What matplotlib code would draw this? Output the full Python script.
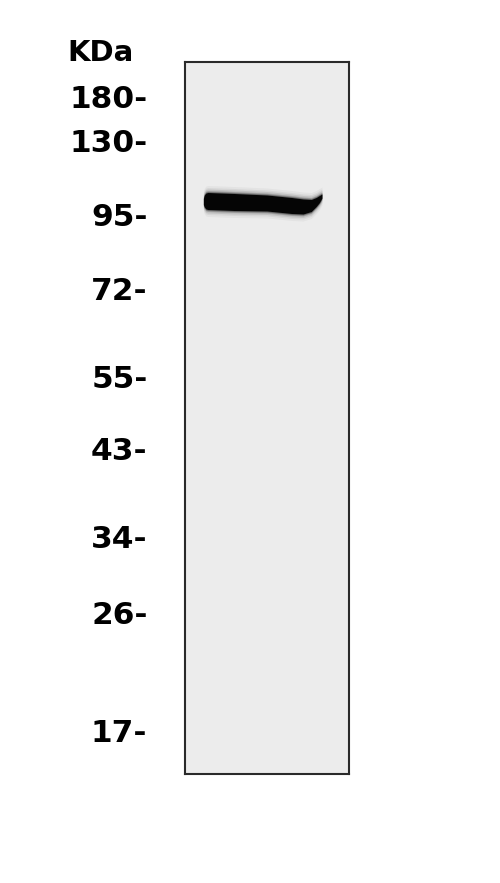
import matplotlib
matplotlib.use('Agg')
import matplotlib.pyplot as plt
import numpy as np

# marker ladder (kDa) and where each one ran, in px from the top of the membrane
marker_labels = ['180', '130', '95', '72', '55', '43', '34', '26', '17']
marker_pos = [35, 79, 152, 227, 314, 386, 474, 551, 669]

# the single band, traced along the lane (x = fraction of lane width)
band_x = [0.112, 0.118, 0.128, 0.14, 0.30, 0.50, 0.65, 0.72, 0.77, 0.80, 0.82, 0.835]
band_mid = [139.5, 139, 139, 139, 140, 141, 143.5, 144.5, 143.5, 140, 137, 134]
band_half = [3.0, 6.0, 8.0, 8.5, 8.5, 8.0, 8.0, 7.5, 6.0, 4.5, 3.5, 2.0]

GEL_LENGTH = 712

fig = plt.figure(figsize=(5, 8.83), dpi=100)
fig.patch.set_facecolor('white')
ax = fig.add_axes([185 / 500, 109 / 883, 164 / 500, 712 / 883])
ax.set_facecolor('#ececec')
ax.set_xlim(0, 1)
ax.set_ylim(GEL_LENGTH, 0)

# soft halo first, then the dark core of the band
bx = np.array(band_x)
mid = np.array(band_mid)
half = np.array(band_half)
for grow, alpha in [(7, 0.04), (5, 0.06), (3.5, 0.1), (2, 0.2), (1, 0.35)]:
    ax.fill_between(bx, mid - half - grow, mid + half + grow,
                    color='#111111', alpha=alpha, linewidth=0)
ax.fill_between(bx, mid - half, mid + half, color='#050505', linewidth=0)

ax.set_xticks([])
ax.set_yticks(marker_pos)
ax.set_yticklabels([m + '-' for m in marker_labels],
                   fontsize=22.5, fontweight='bold', color='black')
ax.tick_params(axis='y', length=0, pad=27)

for side in ax.spines.values():
    side.set_color('#2a2a2a')
    side.set_linewidth(1.5)

fig.text(100 / 500, 1 - 53 / 883, 'KDa', fontsize=21, fontweight='bold',
         ha='center', va='center', color='black')

fig.savefig('out.png', dpi=100)
